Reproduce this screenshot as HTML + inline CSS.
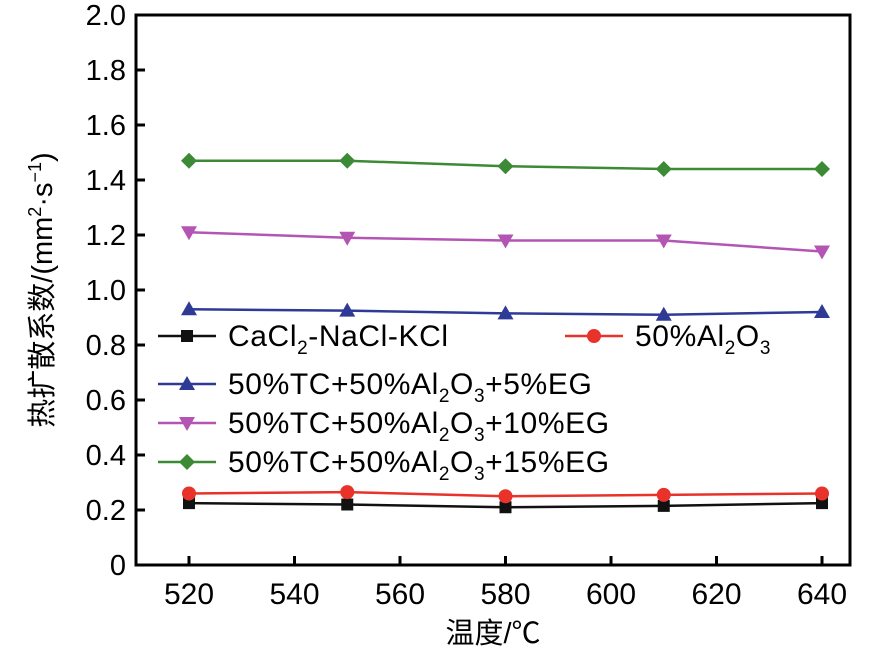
<!DOCTYPE html>
<html><head><meta charset="utf-8"><style>
body{margin:0;background:#fff;}
svg text{font-family:"Liberation Sans","Noto Sans CJK SC",sans-serif;}
</style></head><body>
<svg id="chart" width="886" height="653" viewBox="0 0 886 653"></svg>
<script>
const categories=[520,550,580,610,640];
const xTicks=[520,540,560,580,600,620,640];
const yTicks=[0,0.2,0.4,0.6,0.8,1.0,1.2,1.4,1.6,1.8,2.0];
const sBlack=[0.225,0.22,0.21,0.215,0.225];
const sRed=[0.26,0.265,0.25,0.255,0.26];
const sBlue=[0.93,0.925,0.915,0.91,0.92];
const sPink=[1.21,1.19,1.18,1.18,1.14];
const sGreen=[1.47,1.47,1.45,1.44,1.44];
const NS="http://www.w3.org/2000/svg";
const svg=document.getElementById('chart');
const L=136,R=850,T=15,B=565;
function xs(v){return 189+(v-520)*(822-189)/120;}
function ys(v){return B-(v/2)*(B-T);}
function mk(t,a,p){const e=document.createElementNS(NS,t);for(const k in a)e.setAttribute(k,a[k]);(p||svg).appendChild(e);return e;}
const frame=mk('rect',{x:L,y:T,width:R-L,height:B-T,fill:'none',stroke:'#000','stroke-width':3});


xTicks.forEach(v=>{const x=xs(v);
const t=mk('line',{x1:x,x2:x,y1:B,y2:B-9,stroke:'#000','stroke-width':3});


const l=mk('text',{x:x,y:B+39,'text-anchor':'middle','font-size':30});l.textContent=v;

});
yTicks.forEach(v=>{const y=ys(v);
const t=mk('line',{x1:L,x2:L+9,y1:y,y2:y,stroke:'#000','stroke-width':3});


const l=mk('text',{x:L-10,y:y+10,'text-anchor':'end','font-size':29});l.textContent=v===0?'0':v.toFixed(1);

});
const xt=mk('text',{x:493,y:643,'text-anchor':'middle','font-size':29});xt.textContent='温度/℃';


const yt=mk('text',{transform:'translate(52,290) rotate(-90)','text-anchor':'middle','font-size':29});
yt.innerHTML='热扩散系数/(mm<tspan font-size="18" dy="-11">2</tspan><tspan dy="11">·s</tspan><tspan font-size="18" dy="-11">−1</tspan><tspan dy="11">)</tspan>';


function marker(shape,x,y,c,g){
 if(shape==='sq')return mk('rect',{x:x-6,y:y-6,width:12,height:12,fill:c},g);
 if(shape==='ci')return mk('circle',{cx:x,cy:y,r:7,fill:c},g);
 if(shape==='up')return mk('polygon',{points:`${x},${y-8} ${x-8},${y+6} ${x+8},${y+6}`,fill:c},g);
 if(shape==='dn')return mk('polygon',{points:`${x},${y+8} ${x-8},${y-6} ${x+8},${y-6}`,fill:c},g);
 return mk('polygon',{points:`${x},${y-8} ${x+8},${y} ${x},${y+8} ${x-8},${y}`,fill:c},g);
}
const series=[[sBlack,'#111','sq','series-cacl2-nacl-kcl'],[sRed,'#e8322a','ci','series-50-al2o3'],[sBlue,'#2e3a96','up','series-5-eg'],[sPink,'#b455b4','dn','series-10-eg'],[sGreen,'#3d8a36','di','series-15-eg']];
series.forEach(([d,c,s,n])=>{const g=mk('g',{});


mk('polyline',{points:d.map((v,i)=>xs(categories[i])+','+ys(v)).join(' '),fill:'none',stroke:c,'stroke-width':2.5},g);
d.forEach((v,i)=>{const m=marker(s,xs(categories[i]),ys(v),c,g);

});});
const leg=[[158,336,'#111','sq','CaCl<tspan font-size="19" dy="8">2</tspan><tspan dy="-8">-NaCl-KCl</tspan>','legend-entry-cacl2'],
[565,336,'#e8322a','ci','50%Al<tspan font-size="19" dy="8">2</tspan><tspan dy="-8">O</tspan><tspan font-size="19" dy="8">3</tspan>','legend-entry-al2o3'],
[158,384,'#2e3a96','up','50%TC+50%Al<tspan font-size="19" dy="8">2</tspan><tspan dy="-8">O</tspan><tspan font-size="19" dy="8">3</tspan><tspan dy="-8">+5%EG</tspan>','legend-entry-5-eg'],
[158,423,'#b455b4','dn','50%TC+50%Al<tspan font-size="19" dy="8">2</tspan><tspan dy="-8">O</tspan><tspan font-size="19" dy="8">3</tspan><tspan dy="-8">+10%EG</tspan>','legend-entry-10-eg'],
[158,462,'#3d8a36','di','50%TC+50%Al<tspan font-size="19" dy="8">2</tspan><tspan dy="-8">O</tspan><tspan font-size="19" dy="8">3</tspan><tspan dy="-8">+15%EG</tspan>','legend-entry-15-eg']];
leg.forEach(([x,y,c,s,t,n])=>{const g=mk('g',{});


mk('line',{x1:x,x2:x+58,y1:y,y2:y,stroke:c,'stroke-width':2.5},g);
marker(s,x+29,y,c,g);
const tx=mk('text',{x:x+70,y:y+10,'font-size':30,'letter-spacing':0.6},g);tx.innerHTML=t;});
</script>
</body></html>
